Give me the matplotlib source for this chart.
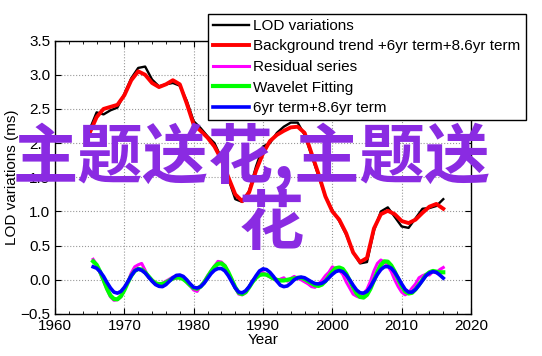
import matplotlib
matplotlib.use("Agg")
import matplotlib.pyplot as plt
from matplotlib.ticker import MultipleLocator
import numpy as np

# annual series (upper curves)
years = np.arange(1965, 2017)
lod = [2.20, 2.45, 2.42, 2.48, 2.52, 2.72, 2.95, 3.10, 3.12, 2.93,
       2.83, 2.86, 2.88, 2.84, 2.62, 2.32, 2.22, 2.10, 2.00, 1.78,
       1.48, 1.18, 1.14, 1.30, 1.66, 1.95, 2.00, 2.15, 2.24, 2.30,
       2.30, 2.12, 1.82, 1.52, 1.22, 1.02, 0.86, 0.66, 0.40, 0.24,
       0.26, 0.72, 1.00, 1.06, 0.92, 0.78, 0.76, 0.90, 1.04, 1.05,
       1.08, 1.18]
trend = [2.15, 2.38, 2.50, 2.53, 2.56, 2.70, 2.92, 3.05, 3.00, 2.88,
         2.82, 2.86, 2.92, 2.86, 2.58, 2.27, 2.18, 2.08, 1.95, 1.76,
         1.50, 1.25, 1.15, 1.28, 1.60, 1.85, 2.03, 2.12, 2.18, 2.23,
         2.24, 2.15, 1.85, 1.55, 1.22, 1.00, 0.88, 0.68, 0.40, 0.26,
         0.32, 0.75, 0.96, 1.01, 0.96, 0.86, 0.83, 0.88, 0.98, 1.07,
         1.11, 1.04]

# half-year series (lower curves)
half_years = np.arange(1965.5, 2016.01, 0.5)
residual = [0.30, 0.22, 0.10, -0.02, -0.14, -0.25, -0.30, -0.29, -0.25, -0.14,
            -0.03, 0.10, 0.19, 0.22, 0.24, 0.14, 0.03, 0.00, -0.06, -0.06,
            -0.05, -0.02, 0.01, 0.04, 0.02, 0.05, 0.03, -0.04, -0.09, -0.15,
            -0.17, -0.09, -0.03, 0.06, 0.13, 0.20, 0.27, 0.26, 0.21, 0.10,
            0.01, -0.12, -0.21, -0.22, -0.19, -0.10, -0.01, 0.04, 0.08, 0.11,
            0.07, 0.04, 0.02, -0.02, 0.01, 0.03, -0.02, 0.02, 0.05, 0.02,
            0.00, -0.03, -0.06, -0.10, -0.11, -0.06, -0.01, 0.06, 0.11, 0.19,
            0.16, 0.14, 0.08, -0.03, -0.12, -0.21, -0.24, -0.26, -0.20, -0.14,
            -0.02, 0.13, 0.24, 0.29, 0.26, 0.20, 0.12, 0.00, -0.10, -0.18,
            -0.22, -0.19, -0.12, -0.06, 0.03, 0.06, 0.08, 0.07, 0.12, 0.10,
            0.15, 0.18]
wavelet = [0.27, 0.22, 0.12, 0.00, -0.13, -0.23, -0.28, -0.285, -0.24, -0.15,
           -0.04, 0.06, 0.13, 0.16, 0.15, 0.11, 0.05, -0.01, -0.05, -0.065,
           -0.06, -0.04, -0.01, 0.02, 0.035, 0.03, 0.01, -0.03, -0.08, -0.12,
           -0.13, -0.10, -0.04, 0.04, 0.12, 0.19, 0.235, 0.24, 0.20, 0.11,
           0.00, -0.11, -0.19, -0.21, -0.18, -0.11, -0.03, 0.03, 0.07, 0.08,
           0.075, 0.05, 0.02, 0.00, -0.01, -0.01, 0.00, 0.01, 0.02, 0.03,
           0.03, 0.01, -0.02, -0.05, -0.08, -0.09, -0.07, -0.02, 0.05, 0.12,
           0.17, 0.18, 0.16, 0.09, -0.01, -0.11, -0.20, -0.25, -0.26, -0.22,
           -0.13, -0.01, 0.12, 0.22, 0.27, 0.265, 0.21, 0.12, 0.01, -0.09,
           -0.17, -0.20, -0.19, -0.14, -0.07, 0.00, 0.07, 0.11, 0.13, 0.12,
           0.11, 0.11]
terms = [0.19, 0.17, 0.12, 0.05, -0.04, -0.12, -0.18, -0.195, -0.17, -0.11,
         -0.03, 0.06, 0.13, 0.157, 0.14, 0.10, 0.04, -0.02, -0.07, -0.095,
         -0.10, -0.07, -0.02, 0.03, 0.065, 0.07, 0.05, 0.00, -0.06, -0.11,
         -0.12, -0.10, -0.05, 0.02, 0.09, 0.14, 0.165, 0.165, 0.13, 0.06,
         -0.03, -0.12, -0.18, -0.19, -0.16, -0.10, -0.02, 0.06, 0.13, 0.16,
         0.15, 0.11, 0.05, -0.02, -0.08, -0.10, -0.09, -0.05, 0.00, 0.03,
         0.04, 0.03, 0.00, -0.03, -0.055, -0.06, -0.05, -0.02, 0.03, 0.08,
         0.12, 0.136, 0.12, 0.07, 0.00, -0.08, -0.15, -0.19, -0.195, -0.17,
         -0.10, -0.01, 0.08, 0.15, 0.19, 0.195, 0.17, 0.11, 0.03, -0.06,
         -0.14, -0.18, -0.18, -0.14, -0.08, -0.01, 0.06, 0.10, 0.12, 0.11,
         0.07, 0.025]

labels = ["LOD variations", "Background trend +6yr term+8.6yr term",
          "Residual series", "Wavelet Fitting", "6yr term+8.6yr term"]

plt.rcParams['font.family'] = ['Liberation Sans', 'DejaVu Sans']
plt.rcParams['font.size'] = 11

fig = plt.figure(figsize=(5.42, 3.56), dpi=100)
ax = fig.add_axes([0.1015, 0.118, 0.7675, 0.768])

ax.plot(years, lod, color='black', lw=1.7, label=labels[0])
ax.plot(years, trend, color='red', lw=2.8, label=labels[1])
ax.plot(half_years, residual, color='magenta', lw=2.2, label=labels[2])
ax.plot(half_years, wavelet, color='#00ff00', lw=3.0, label=labels[3])
ax.plot(half_years, terms, color='blue', lw=2.6, label=labels[4])

ax.set_xlim(1960, 2020)
ax.set_ylim(-0.5, 3.5)
ax.xaxis.set_major_locator(MultipleLocator(10))
ax.xaxis.set_minor_locator(MultipleLocator(2))
ax.yaxis.set_major_locator(MultipleLocator(0.5))
ax.tick_params(which='both', direction='in', top=True, right=True, labelsize=11)
ax.tick_params(which='major', length=4)
ax.tick_params(which='minor', length=2.5)
ax.grid(True, which='major', linestyle=':', color='#999999', lw=0.8)
ax.set_xlabel('Year', labelpad=0)
ax.set_ylabel('LOD variations (ms)', labelpad=1)
for s in ax.spines.values():
    s.set_linewidth(1.0)

leg = ax.legend(loc='upper left', bbox_to_anchor=(208 / 542, 1 - 14 / 356),
                bbox_transform=fig.transFigure, borderaxespad=0, fancybox=False,
                framealpha=1, edgecolor='black', handlelength=2.35,
                handletextpad=0.3, labelspacing=0.43, borderpad=0.32, fontsize=11)
leg.get_frame().set_linewidth(1.0)

# watermark text overlay
wm = dict(color='#8a2be2', fontsize=47, fontweight='bold',
          family=['Noto Sans CJK SC', 'DejaVu Sans'], ha='center', va='center')
fig.text(252 / 542, 1 - 157 / 356, '主题送花,主题送', **wm)
fig.text(271 / 542, 1 - 224 / 356, '花', **wm)

fig.savefig('out.png', dpi=100)
